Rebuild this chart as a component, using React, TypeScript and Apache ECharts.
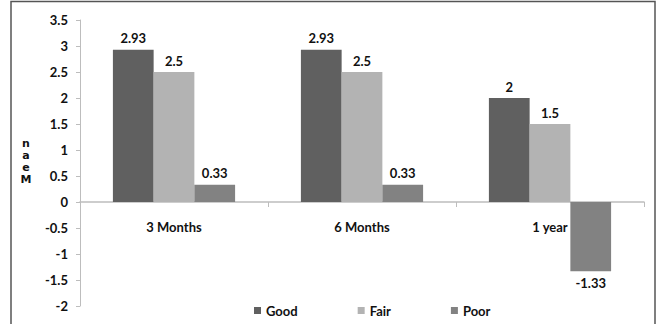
import React, { useEffect, useRef } from "react";
import * as echarts from "echarts";

const categories = ["3 Months", "6 Months", "1 year"];
const good = [2.93, 2.93, 2];
const fair = [2.5, 2.5, 1.5];
const poor = [0.33, 0.33, -1.33];
const seriesNames = ["Good", "Fair", "Poor"];
const colors = ["#606060", "#b3b3b3", "#828282"];

const FONT = "Lato";

export default function App() {
  const ref = useRef<HTMLDivElement>(null);
  useEffect(() => {
    const chart = echarts.init(ref.current!, null, { renderer: "svg" });
    const mk = (name: string, data: number[], color: string) => ({
      name,
      type: "bar",
      barGap: "0%",
      barCategoryGap: "35%",
      itemStyle: { color },
      data: data.map((v) => ({
        value: v,
        label: { position: v < 0 ? "bottom" : "top" },
      })),
      label: {
        show: true,
        distance: 5,
        color: "#111",
        fontFamily: FONT,
        fontWeight: "bold",
        fontSize: 13,
      },
    });
    chart.setOption({
      animation: false,
      grid: {
        left: 80,
        right: 15,
        top: 20,
        bottom: 18,
        containLabel: false,
        outerBoundsMode: "none",
      },
      legend: {
        bottom: 2,
        left: 249,
        itemWidth: 7,
        itemHeight: 7,
        itemGap: 60,
        icon: "rect",
        textStyle: { fontFamily: FONT, fontWeight: "bold", fontSize: 13, color: "#111" },
        data: seriesNames,
      },
      xAxis: {
        type: "category",
        data: categories,
        offset: -104,
        axisLine: { onZero: false, lineStyle: { color: "#bdbdbd", width: 1.5 } },
        axisTick: { show: true, length: 5, lineStyle: { color: "#bdbdbd" } },
        axisLabel: {
          margin: 18,
          color: "#111",
          fontFamily: FONT,
          fontWeight: "bold",
          fontSize: 13,
        },
      },
      yAxis: {
        type: "value",
        min: -2,
        max: 3.5,
        interval: 0.5,
        splitLine: { show: false },
        axisLine: { show: true, lineStyle: { color: "#bdbdbd" } },
        axisTick: { show: true, length: 4, lineStyle: { color: "#bdbdbd" } },
        axisLabel: {
          margin: 12,
          color: "#111",
          fontFamily: FONT,
          fontWeight: "bold",
          fontSize: 13,
        },
      },
      graphic: [
        {
          type: "rect",
          shape: { x: 11, y: 1.5, width: 644, height: 340 },
          style: { fill: "none", stroke: "#555", lineWidth: 1.5 },
          silent: true,
        },
        {
          type: "text",
          x: 26,
          y: 137,
          style: {
            text: "n\na\ne\nM",
            font: "900 11px 'DejaVu Sans'",
            fill: "#111",
            align: "center",
            lineHeight: 12,
          },
        },
      ],
      series: [
        mk(seriesNames[0], good, colors[0]),
        mk(seriesNames[1], fair, colors[1]),
        mk(seriesNames[2], poor, colors[2]),
      ],
    });
    return () => chart.dispose();
  }, []);
  return <div ref={ref} style={{ width: 659, height: 324, position: "absolute", left: 0, top: 0 }} />;
}
